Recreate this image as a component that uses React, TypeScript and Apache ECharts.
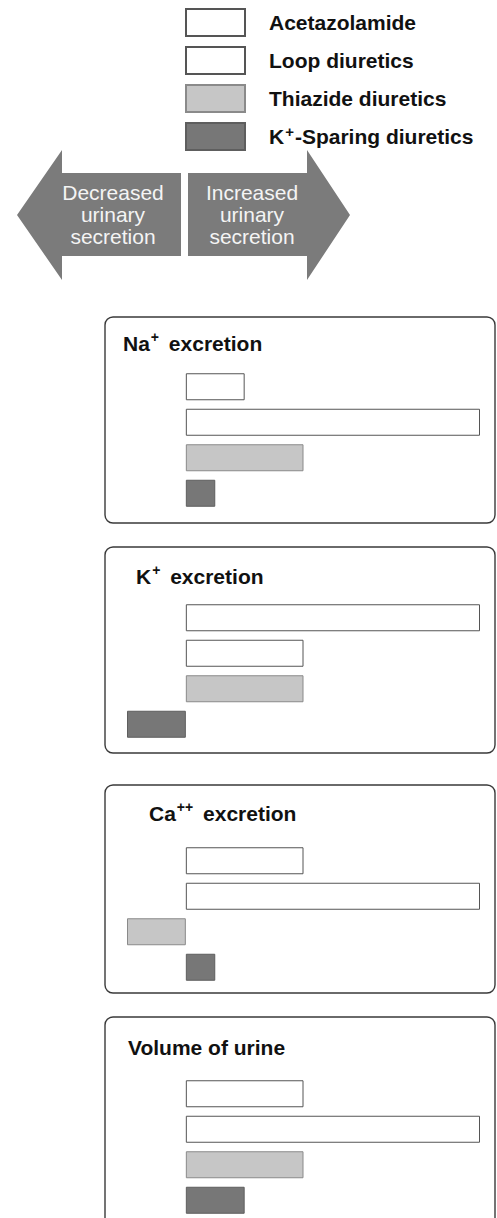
import React, { useEffect, useRef } from 'react';
import * as echarts from 'echarts';

const drugs = ['Acetazolamide', 'Loop diuretics', 'Thiazide diuretics', 'K+-Sparing diuretics'];
const panelTitles = ['Na+ excretion', 'K+ excretion', 'Ca++ excretion', 'Volume of urine'];
const naExcretion = [2, 10, 4, 1];
const kExcretion = [10, 4, 4, -2];
const caExcretion = [4, 10, -2, 1];
const urineVolume = [4, 10, 4, 2];
const arrowLabels = ['Decreased\nurinary\nsecretion', 'Increased\nurinary\nsecretion'];

const FONT = '"Liberation Sans", Arial, Helvetica, sans-serif';

const richify = (s: string) => {
  const m = s.match(/^([A-Za-z]+)(\++)(.*)$/);
  if (!m) return `{b|${s}}`;
  return `{b|${m[1]}}{s|${m[2]}}{b|${m[3]}}`;
};

const legendRich = {
  b: { fontFamily: FONT, fontSize: 21, fontWeight: 'bold', color: '#111', lineHeight: 26 },
  s: { fontFamily: FONT, fontSize: 15, fontWeight: 'bold', color: '#111', verticalAlign: 'top', lineHeight: 15, padding: [0, 1, 0, 1] },
};
const titleRich = {
  b: { fontFamily: FONT, fontSize: 21, fontWeight: 'bold', color: '#111', lineHeight: 26 },
  s: { fontFamily: FONT, fontSize: 14, fontWeight: 'bold', color: '#111', verticalAlign: 'top', lineHeight: 15, padding: [0, 4, 0, 1] },
};

const barStyles = [
  { color: '#ffffff', borderColor: '#555555', borderWidth: 1 },
  { color: '#ffffff', borderColor: '#555555', borderWidth: 1 },
  { color: '#c6c6c6', borderColor: '#8a8a8a', borderWidth: 1 },
  { color: '#777777', borderColor: '#5e5e5e', borderWidth: 1 },
];

const panelBoxes = [
  { y: 317, h: 206 },
  { y: 547, h: 206 },
  { y: 785, h: 208 },
  { y: 1017, h: 240 },
];
const gridTops = [369, 600, 843, 1076];
const titlePos = [
  { x: 123, y: 343 },
  { x: 136, y: 576 },
  { x: 149, y: 813 },
  { x: 128, y: 1047 },
];

export default function App() {
  const ref = useRef<HTMLDivElement>(null);
  useEffect(() => {
    if (!ref.current) return;
    const chart = echarts.init(ref.current, null, { renderer: 'svg' });
    const panelValues = [naExcretion, kExcretion, caExcretion, urineVolume];

    const grids = gridTops.map((t) => ({ left: 127, width: 353, top: t, height: 142 }));
    const xAxes = gridTops.map((_, g) => ({ type: 'value', gridIndex: g, min: -2, max: 10, show: false }));
    const yAxes = gridTops.map((_, g) => ({ type: 'category', gridIndex: g, data: drugs, inverse: true, show: false }));

    const series = panelValues.flatMap((vals, g) =>
      drugs.map((d, i) => ({
        type: 'bar',
        name: d,
        xAxisIndex: g,
        yAxisIndex: g,
        barWidth: 27,
        barGap: '-100%',
        silent: true,
        data: drugs.map((_, j) => (j === i ? vals[i] : '-')),
        itemStyle: barStyles[i],
      }))
    );

    const titles = panelTitles.map((t, g) => ({
      text: richify(t),
      left: titlePos[g].x,
      top: titlePos[g].y - 13,
      padding: 0,
      textStyle: { rich: titleRich },
    }));

    const graphic: any[] = [];
    panelBoxes.forEach((p) => {
      graphic.push({
        type: 'rect',
        shape: { x: 105, y: p.y, width: 390, height: p.h, r: 8 },
        style: { fill: 'none', stroke: '#3a3a3a', lineWidth: 1.4 },
        silent: true,
      });
    });
    graphic.push({
      type: 'polygon',
      shape: { points: [[17, 215], [62, 150], [62, 173], [181, 173], [181, 256], [62, 256], [62, 280]] },
      style: { fill: '#7b7b7b' },
      silent: true,
    });
    graphic.push({
      type: 'polygon',
      shape: { points: [[188, 173], [307, 173], [307, 150], [350, 215], [307, 280], [307, 256], [188, 256]] },
      style: { fill: '#7b7b7b' },
      silent: true,
    });
    [113, 252].forEach((x, k) => {
      graphic.push({
        type: 'text',
        x,
        y: 214,
        style: {
          text: arrowLabels[k],
          fill: '#f4f4f4',
          fontFamily: FONT,
          fontSize: 21,
          lineHeight: 22,
          align: 'center',
          verticalAlign: 'middle',
        },
        silent: true,
      });
    });

    chart.setOption({
      animation: false,
      title: titles,
      legend: {
        orient: 'vertical',
        left: 185,
        top: 8,
        padding: 0,
        itemWidth: 59,
        itemHeight: 27,
        itemGap: 9,
        icon: 'rect',
        selectedMode: false,
        data: drugs,
        formatter: (n: string) => richify(n),
        textStyle: { padding: [0, 0, 0, 19], rich: legendRich },
      },
      grid: grids,
      xAxis: xAxes,
      yAxis: yAxes,
      series,
      graphic,
    });
    return () => chart.dispose();
  }, []);
  return <div ref={ref} style={{ position: 'fixed', left: 0, top: 0, width: 497, height: 1218, background: '#fff' }} />;
}
